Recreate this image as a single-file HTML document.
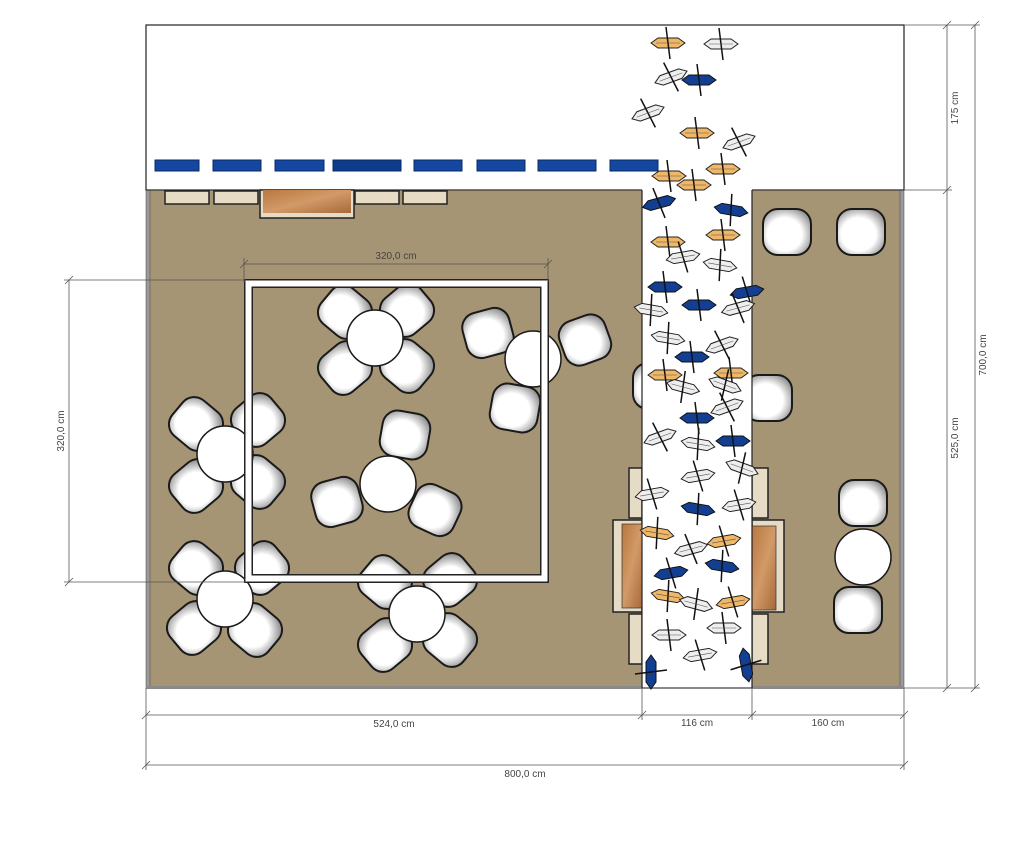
<!DOCTYPE html>
<html><head><meta charset="utf-8"><style>
html,body{margin:0;padding:0;background:#fff;width:1024px;height:848px;overflow:hidden}
svg{display:block}
text{font-family:"Liberation Sans",sans-serif;font-size:10px;fill:#444}
</style></head><body>
<svg width="1024" height="848" viewBox="0 0 1024 848" xmlns="http://www.w3.org/2000/svg">
<defs>
<radialGradient id="cg" cx="0.45" cy="0.55" r="0.6">
<stop offset="0.6" stop-color="#fff"/><stop offset="1" stop-color="#9a9a9a"/></radialGradient>
<linearGradient id="wood" x1="0" y1="0" x2="1" y2="1">
<stop offset="0" stop-color="#b9773f"/><stop offset="0.5" stop-color="#d29a68"/><stop offset="1" stop-color="#a8693a"/></linearGradient>
<g id="chair"><rect x="-24" y="-23" width="48" height="46" rx="15" fill="url(#cg)" stroke="#1a1a1a" stroke-width="2"/></g>
<g id="bw"><polygon points="-17,0 -10,-5 10,-5 17,0 10,5 -10,5" fill="#eee" stroke="#222" stroke-width="1"/><line x1="-2" y1="-16" x2="2" y2="16" stroke="#111" stroke-width="1.5"/><line x1="-12" y1="0" x2="12" y2="0" stroke="#555" stroke-width="0.6"/></g>
<g id="bo"><polygon points="-17,0 -10,-5 10,-5 17,0 10,5 -10,5" fill="#f0b766" stroke="#222" stroke-width="1"/><line x1="-2" y1="-16" x2="2" y2="16" stroke="#111" stroke-width="1.5"/><line x1="-12" y1="0" x2="12" y2="0" stroke="#555" stroke-width="0.6"/></g>
<g id="bb"><polygon points="-17,0 -10,-5 10,-5 17,0 10,5 -10,5" fill="#123f92" stroke="#111" stroke-width="1"/><line x1="-2" y1="-16" x2="2" y2="16" stroke="#111" stroke-width="1.5"/></g>
</defs>
<rect x="146" y="25" width="758" height="165" fill="#fff" stroke="#222" stroke-width="1.2"/>
<rect x="146" y="190" width="496" height="498" fill="#a69574"/>
<rect x="752" y="190" width="152" height="498" fill="#a69574"/>
<rect x="146" y="190" width="4" height="498" fill="#9a9a9a" stroke="#444" stroke-width="0.5"/>
<rect x="900" y="190" width="4" height="498" fill="#9a9a9a" stroke="#444" stroke-width="0.5"/>
<rect x="146" y="686" width="758" height="3" fill="#8a8a8a"/>
<line x1="146" y1="190" x2="642" y2="190" stroke="#222"/>
<line x1="752" y1="190" x2="904" y2="190" stroke="#222"/>
<g fill="#e6dcc6" stroke="#222" stroke-width="1.5">
<rect x="165" y="191" width="44" height="13"/><rect x="214" y="191" width="44" height="13"/><rect x="355" y="191" width="44" height="13"/><rect x="403" y="191" width="44" height="13"/>
<rect x="260" y="190" width="94" height="28"/>
</g>
<rect x="263" y="190" width="88" height="23" fill="url(#wood)"/>
<g fill="#e6dcc6" stroke="#222" stroke-width="1.5">
<rect x="629" y="468" width="13" height="50"/><rect x="629" y="614" width="13" height="50"/>
<rect x="613" y="520" width="29" height="92"/>
<rect x="752" y="468" width="16" height="50"/><rect x="752" y="614" width="16" height="50"/>
<rect x="752" y="520" width="32" height="92"/>
</g>
<rect x="622" y="524" width="20" height="84" fill="url(#wood)" stroke="#333" stroke-width="0.7"/>
<rect x="752" y="526" width="24" height="84" fill="url(#wood)" stroke="#333" stroke-width="0.7"/>
<g>
<use href="#chair" transform="translate(345,312) rotate(40)"/><use href="#chair" transform="translate(407,310) rotate(-40)"/><use href="#chair" transform="translate(345,368) rotate(-40)"/><use href="#chair" transform="translate(407,366) rotate(40)"/>
<use href="#chair" transform="translate(488,333) rotate(-15)"/><use href="#chair" transform="translate(585,340) rotate(-20)"/><use href="#chair" transform="translate(515,408) rotate(10)"/>
<use href="#chair" transform="translate(405,435) rotate(10)"/><use href="#chair" transform="translate(337,502) rotate(-15)"/><use href="#chair" transform="translate(435,510) rotate(25)"/>
<use href="#chair" transform="translate(196,424) rotate(40)"/><use href="#chair" transform="translate(258,420) rotate(-40)"/><use href="#chair" transform="translate(196,486) rotate(-40)"/><use href="#chair" transform="translate(258,482) rotate(40)"/>
<use href="#chair" transform="translate(196,568) rotate(40)"/><use href="#chair" transform="translate(262,568) rotate(-40)"/><use href="#chair" transform="translate(194,628) rotate(-40)"/><use href="#chair" transform="translate(255,630) rotate(40)"/>
<use href="#chair" transform="translate(385,582) rotate(40)"/><use href="#chair" transform="translate(450,580) rotate(-40)"/><use href="#chair" transform="translate(385,645) rotate(-40)"/><use href="#chair" transform="translate(450,640) rotate(40)"/>
<use href="#chair" transform="translate(787,232)"/><use href="#chair" transform="translate(861,232)"/><use href="#chair" transform="translate(768,398)"/>
<use href="#chair" transform="translate(863,503)"/><use href="#chair" transform="translate(858,610)"/>
<use href="#chair" transform="translate(657,386)"/>
</g>
<rect x="642" y="26" width="110" height="661" fill="#fff"/>
<line x1="642" y1="190" x2="642" y2="688" stroke="#222" stroke-width="1.2"/>
<line x1="752" y1="190" x2="752" y2="688" stroke="#222" stroke-width="1.2"/>
<g fill="#1447a0" stroke="#0a2a66" stroke-width="1">
<rect x="155" y="160" width="44" height="11"/><rect x="213" y="160" width="48" height="11"/><rect x="275" y="160" width="49" height="11"/><rect x="333" y="160" width="68" height="11" fill="#0f3c8a"/><rect x="414" y="160" width="48" height="11"/><rect x="477" y="160" width="48" height="11"/><rect x="538" y="160" width="58" height="11"/><rect x="610" y="160" width="48" height="11"/>
</g>
<g fill="#fff" stroke="#1a1a1a" stroke-width="1.5">
<circle cx="375" cy="338" r="28"/><circle cx="533" cy="359" r="28"/><circle cx="388" cy="484" r="28"/><circle cx="225" cy="454" r="28"/><circle cx="225" cy="599" r="28"/><circle cx="417" cy="614" r="28"/><circle cx="863" cy="557" r="28"/>
</g>
<rect x="248.5" y="283.5" width="296" height="295" fill="none" stroke="#222" stroke-width="9"/>
<rect x="248.5" y="283.5" width="296" height="295" fill="none" stroke="#fff" stroke-width="6"/>
<g>
<use href="#bo" transform="translate(668,43)"/><use href="#bw" transform="translate(721,44)"/><use href="#bw" transform="translate(671,77) rotate(-20)"/><use href="#bb" transform="translate(699,80)"/><use href="#bw" transform="translate(648,113) rotate(-20)"/><use href="#bo" transform="translate(697,133)"/><use href="#bw" transform="translate(739,142) rotate(-20)"/><use href="#bo" transform="translate(669,176)"/><use href="#bo" transform="translate(694,185)"/><use href="#bo" transform="translate(723,169)"/><use href="#bb" transform="translate(659,203) rotate(-15)"/><use href="#bb" transform="translate(731,210) rotate(10)"/><use href="#bo" transform="translate(668,242)"/><use href="#bo" transform="translate(723,235)"/><use href="#bw" transform="translate(683,257) rotate(-10)"/><use href="#bw" transform="translate(720,265) rotate(10)"/><use href="#bb" transform="translate(665,287)"/><use href="#bb" transform="translate(747,292) rotate(-10)"/><use href="#bw" transform="translate(651,310) rotate(10)"/><use href="#bb" transform="translate(699,305)"/><use href="#bw" transform="translate(738,308) rotate(-15)"/><use href="#bw" transform="translate(668,338) rotate(10)"/><use href="#bw" transform="translate(722,345) rotate(-20)"/><use href="#bb" transform="translate(692,357)"/><use href="#bo" transform="translate(731,373)"/><use href="#bo" transform="translate(665,375)"/><use href="#bw" transform="translate(683,387) rotate(15)"/><use href="#bw" transform="translate(725,385) rotate(20)"/><use href="#bb" transform="translate(697,418)"/><use href="#bw" transform="translate(727,407) rotate(-20)"/><use href="#bw" transform="translate(660,437) rotate(-20)"/><use href="#bw" transform="translate(698,444) rotate(10)"/><use href="#bb" transform="translate(733,441)"/><use href="#bw" transform="translate(742,468) rotate(20)"/><use href="#bw" transform="translate(698,476) rotate(-10)"/><use href="#bw" transform="translate(652,494) rotate(-10)"/><use href="#bb" transform="translate(698,509) rotate(10)"/><use href="#bw" transform="translate(739,505) rotate(-10)"/><use href="#bo" transform="translate(657,533) rotate(10)"/><use href="#bw" transform="translate(691,549) rotate(-15)"/><use href="#bo" transform="translate(724,541) rotate(-10)"/><use href="#bb" transform="translate(671,573) rotate(-10)"/><use href="#bb" transform="translate(722,566) rotate(10)"/><use href="#bo" transform="translate(668,596) rotate(10)"/><use href="#bw" transform="translate(696,604) rotate(15)"/><use href="#bo" transform="translate(733,602) rotate(-10)"/><use href="#bw" transform="translate(669,635)"/><use href="#bw" transform="translate(724,628)"/><use href="#bw" transform="translate(700,655) rotate(-10)"/><use href="#bb" transform="translate(651,672) rotate(90)"/><use href="#bb" transform="translate(746,665) rotate(80)"/>
</g>
<g stroke="#555" stroke-width="0.8" fill="none">
<line x1="904" y1="25" x2="980" y2="25"/><line x1="904" y1="190" x2="952" y2="190"/><line x1="904" y1="688" x2="980" y2="688"/>
<line x1="947" y1="25" x2="947" y2="688"/><line x1="975" y1="25" x2="975" y2="688"/>
<line x1="943" y1="29" x2="951" y2="21"/><line x1="943" y1="194" x2="951" y2="186"/><line x1="943" y1="692" x2="951" y2="684"/>
<line x1="971" y1="29" x2="979" y2="21"/><line x1="971" y1="692" x2="979" y2="684"/>
<line x1="146" y1="688" x2="146" y2="770"/><line x1="642" y1="688" x2="642" y2="720"/><line x1="752" y1="688" x2="752" y2="720"/><line x1="904" y1="688" x2="904" y2="770"/>
<line x1="146" y1="715" x2="904" y2="715"/><line x1="146" y1="765" x2="904" y2="765"/>
<line x1="142" y1="719" x2="150" y2="711"/><line x1="638" y1="719" x2="646" y2="711"/><line x1="748" y1="719" x2="756" y2="711"/><line x1="900" y1="719" x2="908" y2="711"/>
<line x1="142" y1="769" x2="150" y2="761"/><line x1="900" y1="769" x2="908" y2="761"/>
<line x1="244" y1="258" x2="244" y2="282"/><line x1="548" y1="258" x2="548" y2="282"/><line x1="244" y1="264" x2="548" y2="264"/>
<line x1="240" y1="268" x2="248" y2="260"/><line x1="544" y1="268" x2="552" y2="260"/>
<line x1="64" y1="280" x2="246" y2="280"/><line x1="64" y1="582" x2="246" y2="582"/><line x1="69" y1="280" x2="69" y2="582"/>
<line x1="65" y1="284" x2="73" y2="276"/><line x1="65" y1="586" x2="73" y2="578"/>
</g>
<text x="396" y="259" text-anchor="middle">320,0 cm</text>
<text x="394" y="727" text-anchor="middle">524,0 cm</text>
<text x="697" y="726" text-anchor="middle">116 cm</text>
<text x="828" y="726" text-anchor="middle">160 cm</text>
<text x="525" y="777" text-anchor="middle">800,0 cm</text>
<text transform="translate(958,108) rotate(-90)" text-anchor="middle">175 cm</text>
<text transform="translate(958,438) rotate(-90)" text-anchor="middle">525,0 cm</text>
<text transform="translate(986,355) rotate(-90)" text-anchor="middle">700,0 cm</text>
<text transform="translate(64,431) rotate(-90)" text-anchor="middle">320,0 cm</text>
</svg>
</body></html>
